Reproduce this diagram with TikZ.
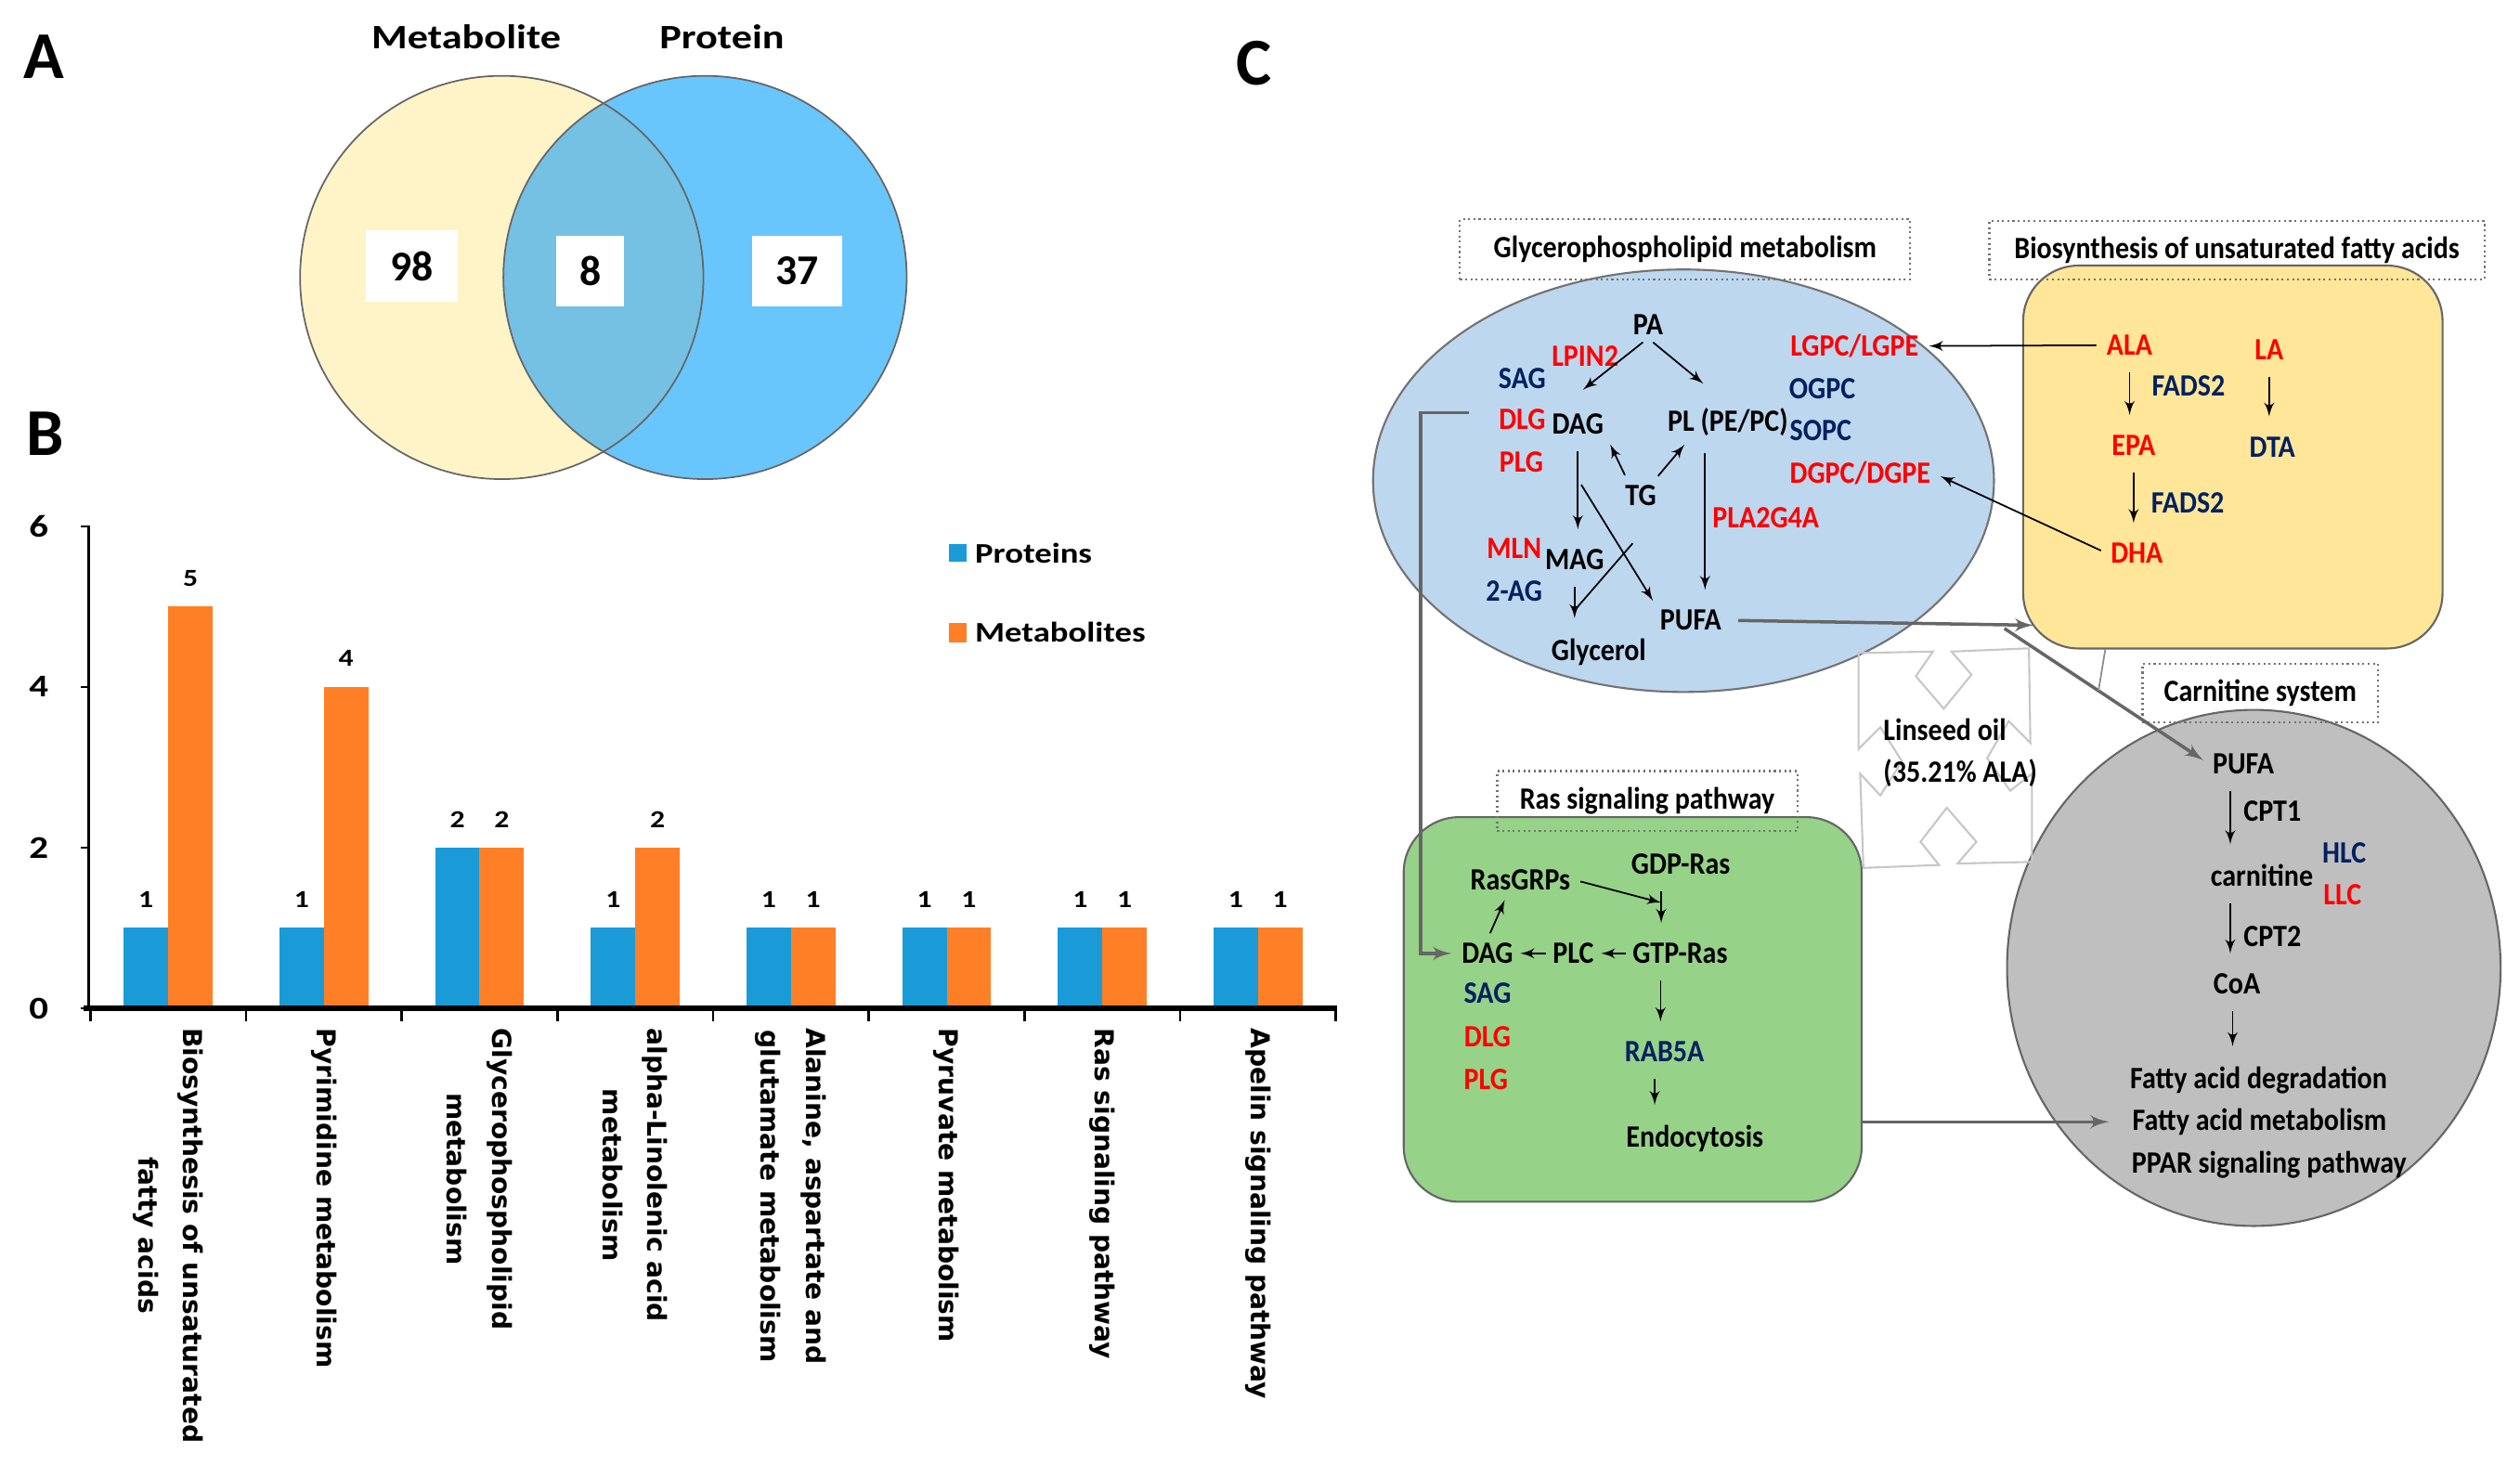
\documentclass[tikz,border=0pt]{standalone}
\usepackage{fontspec}
\setmainfont{Carlito}
\newfontfamily\wideft[FakeStretch=1.2]{Carlito}
\newfontfamily\condft[FakeStretch=0.9]{Carlito}
\newfontfamily\catft{DejaVu Sans}
\usetikzlibrary{shapes,arrows,positioning,calc}

\definecolor{vyellow}{RGB}{255,244,200}
\definecolor{vblue}{RGB}{104,198,252}
\definecolor{vmid}{RGB}{117,193,228}
\definecolor{barblue}{RGB}{26,155,215}
\definecolor{barorange}{RGB}{255,127,39}
\definecolor{glyblue}{RGB}{189,215,238}
\definecolor{fayellow}{RGB}{255,230,153}
\definecolor{rasgreen}{RGB}{150,210,136}
\definecolor{carngray}{RGB}{191,191,191}
\definecolor{metred}{RGB}{255,0,0}
\definecolor{protblue}{RGB}{0,32,96}

\begin{document}
\begin{tikzpicture}[x=0.017375cm, y=-0.017375cm,
    panel/.style={font=\bfseries\fontsize{20.5}{22}\selectfont, inner sep=0pt},
    venntitle/.style={font=\wideft\bfseries\fontsize{10.5}{12}\selectfont},
    numbox/.style={fill=white, inner sep=0pt, minimum height=0.765cm, font=\bfseries\fontsize{13}{15}\selectfont},
    vline/.style={draw=black!60, line width=0.5pt},
    ticklab/.style={font=\wideft\bfseries\fontsize{9.7}{11}\selectfont, inner sep=0pt},
    vallab/.style={font=\wideft\bfseries\fontsize{7.5}{9}\selectfont, inner sep=0pt},
    leglab/.style={font=\wideft\bfseries\fontsize{8.7}{10}\selectfont, anchor=west, inner sep=0pt},
    catlab/.style={rotate=-90, anchor=west, align=center, inner sep=0pt, font=\catft\bfseries\fontsize{8}{13.8}\selectfont},
    lbl/.style={font=\condft\bfseries\fontsize{9.5}{11}\selectfont, inner sep=1pt},
    met/.style={lbl, text=metred},
    prot/.style={lbl, text=protblue},
    titlebox/.style={lbl, draw=black!55, densely dotted, line width=0.6pt, inner sep=0pt},
    arr/.style={-latex', line width=0.5pt, shorten <=2pt, shorten >=2pt},
    vert/.style={arr, shorten <=4pt, shorten >=5pt},
    conn/.style={-latex', draw=black!60, line width=1pt}]

    \useasboundingbox (0,0) rectangle (1562,908.2);

    % Panel A: Venn diagram
    \node [panel] (labA) at (27,35) {A};
    \fill [vyellow] (311,172) circle [radius=125];
    \fill [vblue] (437,172) circle [radius=125];
    \begin{scope}
        \clip (311,172) circle [radius=125];
        \fill [vmid] (437,172) circle [radius=125];
    \end{scope}
    \draw [vline] (311,172) circle [radius=125];
    \draw [vline] (437,172) circle [radius=125];
    \node [venntitle] (tmet) at (289,23) {Metabolite};
    \node [venntitle] (tprot) at (447.5,23) {Protein};
    \node [numbox, minimum width=0.99cm] (n98) at (255.5,165) {98};
    \node [numbox, minimum width=0.73cm] (n8) at (366,168) {8};
    \node [numbox, minimum width=0.973cm] (n37) at (494,168) {37};

    % Panel B: bar chart
    \node [panel] (labB) at (28,269) {B};
    \foreach \i/\p/\m in {1/1/5, 2/1/4, 3/2/2, 4/1/2, 5/1/1, 6/1/1, 7/1/1, 8/1/1} {
        \pgfmathsetmacro\c{56+96.5*(\i-0.5)}
        \fill [barblue] (\c-27.5,625) rectangle (\c,625-49.8*\p);
        \fill [barorange] (\c,625) rectangle (\c+27.5,625-49.8*\m);
        \node [vallab] (vp\i) at (\c-13.75,625-49.8*\p-17.5) {\p};
        \node [vallab] (vm\i) at (\c+13.75,625-49.8*\m-17.5) {\m};
    }
    \draw [line width=0.8pt] (55,326) -- (55,625);
    \draw [line width=1.6pt] (52,625) -- (829,625);
    \foreach \k in {0,...,8}
        \draw [line width=0.7pt] (56+96.5*\k,625) -- ++(0,8);
    \foreach \v in {0,2,4,6} {
        \draw [line width=0.7pt] (50,625-49.8*\v) -- (55,625-49.8*\v);
        \node [ticklab] (tick\v) at (24,625-49.8*\v) {\v};
    }
    \fill [barblue] (588,337) rectangle (599,348);
    \node [leglab] (legp) at (604,343) {Proteins};
    \fill [barorange] (588,386) rectangle (599,398);
    \node [leglab] (legm) at (604,392) {Metabolites};

    \node [catlab] (cat1) at (104.25,637) {Biosynthesis of unsaturated\\fatty acids};
    \node [catlab] (cat2) at (200.75,637) {Pyrimidine metabolism};
    \node [catlab] (cat3) at (297.25,637) {Glycerophospholipid\\metabolism};
    \node [catlab] (cat4) at (393.75,637) {alpha-Linolenic acid\\metabolism};
    \node [catlab] (cat5) at (490.25,637) {Alanine, aspartate and\\glutamate metabolism};
    \node [catlab] (cat6) at (586.75,637) {Pyruvate metabolism};
    \node [catlab] (cat7) at (683.25,637) {Ras signaling pathway};
    \node [catlab] (cat8) at (779.75,637) {Apelin signaling pathway};

    % Panel C: pathway map
    \node [panel] (labC) at (777,39) {C};

    % Background shapes
    \node [ellipse, draw=black!55, fill=glyblue, line width=0.6pt, inner sep=0pt,
           minimum width=6.689cm, minimum height=4.552cm] (glyell) at (1043.5,298) {};
    \node [rectangle, rounded corners=17pt, draw=black!60, fill=fayellow, line width=0.6pt,
           minimum width=4.5175cm, minimum height=4.125cm] (fabox) at (1384,283.3) {};
    \node [rectangle, rounded corners=17pt, draw=black!60, fill=rasgreen, line width=0.6pt,
           minimum width=4.934cm, minimum height=4.144cm] (rasbox) at (1012,625.75) {};
    \node [ellipse, draw=black!60, fill=carngray, line width=0.6pt, inner sep=0pt,
           minimum width=5.317cm, minimum height=5.56cm] (carnell) at (1397,600) {};

    % Linseed oil outline
    \draw [black!22, line width=0.6pt]
        (1152,404.8) -- (1198.1,403.9) -- (1187.5,419.2) -- (1204.8,439.3) -- (1222,418.2)
        -- (1209.6,403.9) -- (1257.6,401.9) -- (1258.5,460.4) -- (1245.1,447) -- (1231.7,470)
        -- (1246,490.2) -- (1259.5,479.6) -- (1259.5,534.3) -- (1213.4,535.3) -- (1225,521.8)
        -- (1206.7,500.7) -- (1190.4,521.8) -- (1201.9,536.2) -- (1155,538) -- (1153,479.6)
        -- (1165.5,493.1) -- (1178.9,471.9) -- (1165.5,450.8) -- (1152,464.3) -- cycle;
    \node [lbl, align=left, anchor=west, font=\condft\bfseries\fontsize{9.5}{12.8}\selectfont] (oil)
        at (1165,466.5) {Linseed oil\\(35.21\% ALA)};

    % Title boxes
    \node [titlebox, minimum width=4.85cm, minimum height=0.643cm] (tgly) at (1044.5,154.5) {Glycerophospholipid metabolism};
    \node [titlebox, minimum width=5.334cm, minimum height=0.625cm] (tfa) at (1386.5,155) {Biosynthesis of unsaturated fatty acids};
    \node [titlebox, minimum width=2.537cm, minimum height=0.634cm] (tcarn) at (1401,429.75) {Carnitine system};
    \node [titlebox, minimum width=3.232cm, minimum height=0.643cm] (tras) at (1021,496.5) {Ras signaling pathway};

    % Glycerophospholipid metabolism
    \node [lbl] (gPA) at (1021.5,201) {PA};
    \node [met] (gLPIN) at (982.5,220.5) {LPIN2};
    \node [prot] (gSAG) at (943.5,234.5) {SAG};
    \node [met] (gDLG) at (943.5,260) {DLG};
    \node [lbl] (gDAG) at (978,263) {DAG};
    \node [lbl] (gPL) at (1071,261.5) {PL (PE/PC)};
    \node [met] (gPLG) at (943,286.5) {PLG};
    \node [lbl] (gTG) at (1017,307) {TG};
    \node [met] (gMLN) at (938.5,340) {MLN};
    \node [lbl] (gMAG) at (976,347) {MAG};
    \node [prot] (gAG) at (938.5,366.5) {2-AG};
    \node [lbl] (gPUFA) at (1048,384.5) {PUFA};
    \node [lbl] (gGly) at (991,404) {Glycerol};
    \node [met] (gLGPC) at (1149.5,214.5) {LGPC/LGPE};
    \node [prot] (gOGPC) at (1129.5,241) {OGPC};
    \node [prot] (gSOPC) at (1128.5,267) {SOPC};
    \node [met] (gDGPC) at (1153,293.5) {DGPC/DGPE};
    \node [met] (gPLA) at (1094.5,321) {PLA2G4A};

    \draw [arr] (gPA.south) -- ([yshift=5pt]gDAG.north);
    \draw [arr] (gPA.south) -- ([xshift=-6pt,yshift=5pt]gPL.north);
    \draw [arr] ([xshift=-4pt]gTG.north) -- (gDAG.south east);
    \draw [arr] ([xshift=4pt]gTG.north) -- ([xshift=-12pt]gPL.south);
    \draw [vert] (gDAG.south) -- coordinate [pos=0.38] (dagfork) (gDAG.south |- gMAG.north);
    \draw [arr] (dagfork) -- (gPUFA.north west);
    \draw [vert] ([xshift=-7pt]gPL.south) -- ([xshift=-7pt]gPL.south |- gPUFA.north);
    \draw [vert] (gMAG.south) -- coordinate [pos=0.6] (magfork) (gMAG.south |- gGly.north);
    \draw [line width=0.5pt] ($(gTG.south)+(-5,21)$) -- (magfork);

    % Biosynthesis of unsaturated fatty acids
    \node [met] (bALA) at (1320,214) {ALA};
    \node [met] (bLA) at (1406.5,217) {LA};
    \node [prot] (bFADSa) at (1356.5,239) {FADS2};
    \node [met] (bEPA) at (1322.5,276) {EPA};
    \node [prot] (bDTA) at (1408.5,277) {DTA};
    \node [prot] (bFADSb) at (1356,311.7) {FADS2};
    \node [met] (bDHA) at (1324.5,343) {DHA};

    \draw [arr] (bALA.west) -- (gLGPC.east);
    \draw [arr] (bDHA.west) -- (gDGPC.east);
    \draw [vert] (bALA.south) -- (bALA.south |- bEPA.north);
    \draw [vert] (bLA.south) -- (bLA.south |- bDTA.north);
    \draw [vert] (bEPA.south) -- (bEPA.south |- bDHA.north);

    % Carnitine system
    \node [lbl] (cPUFA) at (1390.5,473.5) {PUFA};
    \node [lbl] (cCPTa) at (1408.5,502.7) {CPT1};
    \node [prot] (cHLC) at (1453,528.6) {HLC};
    \node [lbl] (cCarn) at (1402,542.7) {carnitine};
    \node [met] (cLLC) at (1452,554.6) {LLC};
    \node [lbl] (cCPTb) at (1408.5,580.6) {CPT2};
    \node [lbl] (cCoA) at (1386.5,609.9) {CoA};
    \node [lbl] (cFAD) at (1400,669.4) {Fatty acid degradation};
    \node [lbl] (cFAM) at (1400.5,695.4) {Fatty acid metabolism};
    \node [lbl] (cPPAR) at (1406.5,722) {PPAR signaling pathway};

    \draw [vert] ([xshift=-4pt]cPUFA.south) -- ([xshift=-4pt]cPUFA.south |- cCarn.north);
    \draw [vert] ([xshift=-4pt]cPUFA.south |- cCarn.south) -- ([xshift=-4pt]cPUFA.south |- cCoA.north);
    \draw [vert] ([xshift=-1.3pt]cCoA.south) -- ([xshift=-1.3pt]cCoA.south |- cFAD.north);

    % Ras signaling pathway
    \node [lbl] (rGDP) at (1041.8,535.7) {GDP-Ras};
    \node [lbl] (rGRP) at (942.4,545.4) {RasGRPs};
    \node [lbl] (rDAG) at (922,591) {DAG};
    \node [lbl] (rPLC) at (975.2,591) {PLC};
    \node [lbl] (rGTP) at (1041.4,591) {GTP-Ras};
    \node [prot] (rSAG) at (922,615.8) {SAG};
    \node [met] (rDLG) at (922,642.9) {DLG};
    \node [met] (rPLG) at (921,668.9) {PLG};
    \node [prot] (rRAB) at (1031.7,652) {RAB5A};
    \node [lbl] (rEndo) at (1050.5,705.7) {Endocytosis};

    \draw [vert] ([xshift=-6pt]rGDP.south) -- coordinate [pos=0.4] (gtpfork) ([xshift=-6pt]rGDP.south |- rGTP.north);
    \draw [arr] (rDAG.north) -- ([xshift=-4pt]rGRP.south);
    \draw [arr, shorten >=0pt] (rGRP.east) -- (gtpfork);
    \draw [arr, shorten <=1pt, shorten >=1pt] (rGTP.west) -- (rPLC.east);
    \draw [arr, shorten <=1pt, shorten >=1pt] (rPLC.west) -- (rDAG.east);
    \draw [vert] ([xshift=-6pt]rGTP.south) -- ([xshift=-6pt]rGTP.south |- rRAB.north);
    \draw [vert] ([xshift=-3pt]rRAB.south) -- ([xshift=-3pt]rRAB.south |- rEndo.north);

    % Connections between pathways
    \coordinate (fork) at ($(fabox.south west)+(-11,-13)$);
    \draw [conn, shorten <=4pt] (gPUFA.east) -- ($(fabox.south west)+(7,-15)$);
    \draw [conn, shorten >=2pt] (fork) -- coordinate [pos=0.46] (diagmid) (cPUFA.west);
    \draw [black!45, line width=0.5pt] ($(fabox.south west)+(51.5,0)$) -- (diagmid);
    \draw [conn, shorten <=8pt, shorten >=2pt] ([yshift=2pt]gDLG.west) -- ++(-46,0) |- (rDAG.west);
    \draw [conn, shorten >=6pt] (rasbox.east |- cFAM) -- (cFAM.west);
\end{tikzpicture}
\end{document}
